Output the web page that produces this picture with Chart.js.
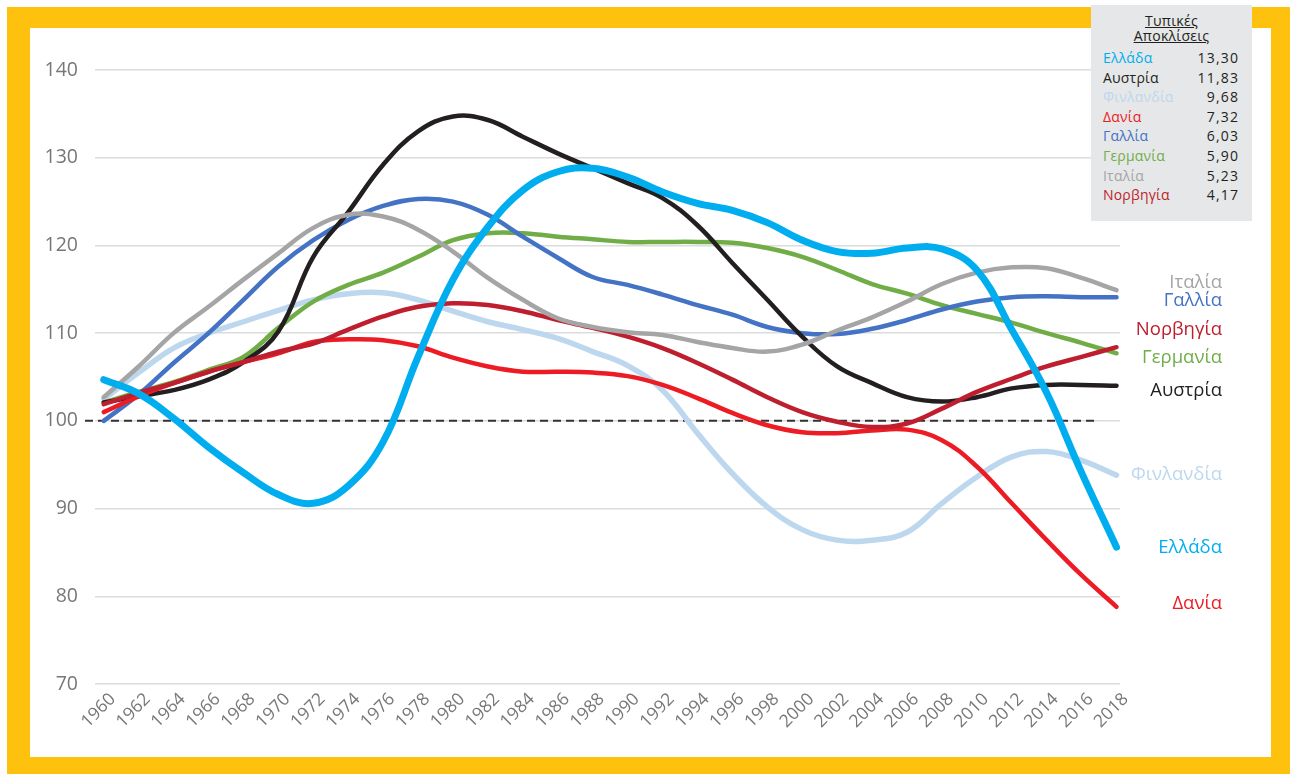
<!DOCTYPE html>
<html><head><meta charset="utf-8">
<script src="https://cdn.jsdelivr.net/npm/chart.js@4/dist/chart.umd.min.js"></script>
<style>
html,body{margin:0;padding:0;background:#fff;width:1296px;height:774px;overflow:hidden;}
#frame{position:absolute;left:7px;top:7px;width:1283px;height:767px;background:#FEC10E;}
#inner{position:absolute;left:30px;top:28px;width:1241px;height:729px;background:#fff;}
#wrap{position:absolute;left:0;top:0;width:1296px;height:774px;}
#box{position:absolute;left:1091px;top:5px;width:161px;height:216px;background:#E6E7E8;font-family:"Open Sans",sans-serif;font-size:14px;color:#231F20;}
#box .ttl{text-align:center;line-height:15px;margin-top:8px;margin-bottom:5px;letter-spacing:0.3px;}
#box .ttl span{text-decoration:underline;}
#box .row{position:relative;height:19.6px;line-height:19.6px;}
#box .row .n{position:absolute;left:12px;letter-spacing:0.2px;}
#box .row .v{position:absolute;right:14px;letter-spacing:1.2px;margin-right:-1.2px;}
</style></head>
<body>
<div id="frame"></div><div id="inner"></div>
<div id="wrap"><canvas id="c" width="1296" height="774"></canvas></div>
<div id="box"><div class="ttl"><span>Τυπικές</span><br><span>Αποκλίσεις</span></div><div id="rows"></div></div>
<script>
const years = [];
for (let y = 1960; y <= 2018; y += 2) years.push(y);
const yTicks = [70, 80, 90, 100, 110, 120, 130, 140];

const greece  = [104.7,103.1,100.3,97.0,94.1,91.6,90.6,92.6,97.6,107.3,116.1,122.1,126.3,128.4,128.8,127.8,126.1,124.8,124.0,122.6,120.6,119.3,119.1,119.7,119.6,117.2,110.4,103.2,94.1,85.6];
const austria = [102.1,102.8,103.5,104.7,106.7,110.2,118.7,123.8,129.2,133.0,134.7,134.3,132.4,130.5,128.8,127.1,125.4,122.3,118.0,113.8,109.6,106.2,104.3,102.7,102.2,102.7,103.7,104.1,104.1,104.0];
const finland = [102.5,105.5,108.3,110.0,111.3,112.6,113.8,114.5,114.6,113.8,112.5,111.3,110.4,109.4,107.9,106.3,103.5,98.6,94.0,90.2,87.6,86.4,86.4,87.3,90.6,93.6,95.9,96.5,95.5,93.8];
const denmark = [101.0,102.8,104.3,105.6,106.7,107.7,109.0,109.3,109.2,108.5,107.2,106.2,105.6,105.6,105.5,105.1,104.1,102.6,100.9,99.5,98.7,98.6,98.9,99.0,97.8,94.8,90.6,86.4,82.4,78.8];
const france  = [100.0,103.0,106.6,110.0,113.8,117.6,120.6,122.9,124.5,125.3,125.0,123.5,121.0,118.6,116.4,115.5,114.4,113.2,112.1,110.7,110.0,109.9,110.5,111.5,112.7,113.6,114.1,114.2,114.1,114.1];
const germany = [102.1,103.3,104.4,105.8,107.3,110.6,113.6,115.5,116.9,118.7,120.6,121.4,121.4,121.0,120.7,120.4,120.4,120.4,120.3,119.7,118.7,117.2,115.6,114.5,113.2,112.2,111.2,110.0,108.9,107.7];
const italy   = [102.7,106.2,110.0,113.0,116.1,119.1,122.0,123.5,123.3,121.8,119.3,116.3,113.8,111.7,110.7,110.1,109.8,109.0,108.3,107.9,108.7,110.3,111.8,113.6,115.6,116.9,117.5,117.4,116.3,114.9];
const norway  = [101.9,103.2,104.3,105.6,106.7,107.9,108.8,110.4,111.9,113.0,113.4,113.2,112.5,111.5,110.6,109.6,108.3,106.6,104.7,102.7,101.0,99.9,99.3,99.7,101.4,103.3,104.8,106.2,107.3,108.4];

const names  = ["Ελλάδα","Αυστρία","Φινλανδία","Δανία","Γαλλία","Γερμανία","Ιταλία","Νορβηγία"];
const stdDev = ["13,30","11,83","9,68","7,32","6,03","5,90","5,23","4,17"];
const series = [greece, austria, finland, denmark, france, germany, italy, norway];
const colors = ["#00AEEF","#231F20","#BDD7EE","#ED1C24","#4472C4","#70AD47","#A5A5A5","#BE1E2D"];
const widths = [7, 4.5, 5.5, 4.5, 4.5, 4.5, 4.5, 4.5];
const drawOrder = [0, 4, 7, 3, 5, 6, 1, 2]; // lower is drawn on top
const endLabelShift = [1, 5, -1, -3, 4, 4, -7, -17]; // px nudges to avoid overlaps

const rows = document.getElementById('rows');
names.forEach((n, i) => {
  const r = document.createElement('div'); r.className = 'row';
  r.innerHTML = '<span class="n" style="color:' + colors[i] + '">' + n + '</span><span class="v">' + stdDev[i] + '</span>';
  rows.appendChild(r);
});

const FONT = '"Open Sans", sans-serif';

const datasets = series.map((s, i) => ({
  label: names[i],
  data: s.map((v, k) => ({x: years[k], y: v})),
  borderColor: colors[i],
  backgroundColor: colors[i],
  borderWidth: widths[i],
  pointRadius: 0,
  tension: 0.4,
  borderCapStyle: 'round',
  borderJoinStyle: 'round',
  fill: false,
  order: drawOrder[i]
}));

const refLine = {
  id: 'refLine',
  beforeDatasetsDraw(chart) {
    const {ctx, scales} = chart;
    const y = scales.y.getPixelForValue(100);
    ctx.save();
    ctx.strokeStyle = '#333';
    ctx.lineWidth = 2;
    ctx.setLineDash([8, 5]);
    ctx.beginPath();
    ctx.moveTo(chart.chartArea.left - 10, y);
    ctx.lineTo(scales.x.getPixelForValue(2017), y);
    ctx.stroke();
    ctx.restore();
  }
};

const endLabels = {
  id: 'endLabels',
  afterDatasetsDraw(chart) {
    const {ctx, scales} = chart;
    ctx.save();
    ctx.font = '18.5px ' + FONT;
    ctx.textAlign = 'right';
    ctx.textBaseline = 'middle';
    series.forEach((s, i) => {
      const y = scales.y.getPixelForValue(s[s.length - 1]) + endLabelShift[i];
      ctx.fillStyle = colors[i];
      ctx.fillText(names[i], chart.chartArea.right + 102, y);
    });
    ctx.restore();
  }
};

new Chart(document.getElementById('c'), {
  type: 'line',
  data: {datasets},
  plugins: [refLine, endLabels],
  options: {
    responsive: false,
    animation: false,
    layout: {padding: {left: 0, right: 176, top: 70, bottom: 0}},
    plugins: {legend: {display: false}, tooltip: {enabled: false}},
    scales: {
      x: {
        type: 'linear',
        min: 1959.5,
        max: 2018.2,
        afterBuildTicks: (axis) => { axis.ticks = years.map(v => ({value: v})); },
        afterFit: (axis) => { axis.height = 90; },
        grid: {display: false, drawTicks: false},
        border: {display: false},
        ticks: {
          color: '#777777',
          font: {family: FONT, size: 17.5},
          minRotation: 45, maxRotation: 45,
          autoSkip: false,
          padding: 5,
          labelOffset: 9,
          callback: (v) => String(v)
        }
      },
      y: {
        min: 70, max: 140,
        afterBuildTicks: (axis) => { axis.ticks = yTicks.map(v => ({value: v})); },
        afterFit: (axis) => { axis.width = 95; },
        grid: {color: '#DCDCDC', lineWidth: 1.5, drawTicks: false},
        border: {display: false},
        ticks: {
          color: '#777777',
          font: {family: FONT, size: 19.5},
          padding: 17
        }
      }
    }
  }
});
</script>
</body></html>
